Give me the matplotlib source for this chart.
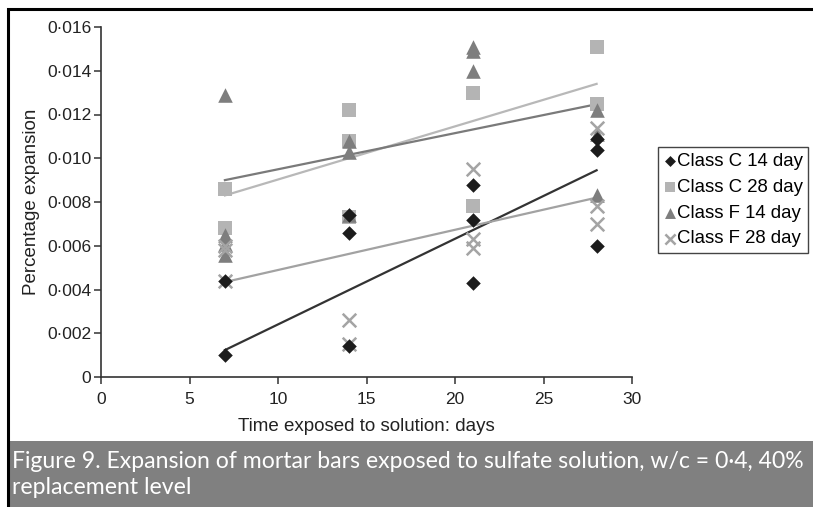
import matplotlib
matplotlib.use("Agg")
import matplotlib.pyplot as plt
from matplotlib.patches import Rectangle
from matplotlib.ticker import FuncFormatter

# ---- data ----
days = [7, 14, 21, 28]

c14_x = [7, 7, 14, 14, 14, 21, 21, 21, 28, 28, 28]
c14_y = [0.0010, 0.0044, 0.0074, 0.0066, 0.0014, 0.0088, 0.0072, 0.0043, 0.0109, 0.0104, 0.0060]

c28_x = [7, 7, 14, 14, 14, 21, 21, 28, 28]
c28_y = [0.0086, 0.0068, 0.0122, 0.0108, 0.0073, 0.0130, 0.0078, 0.0151, 0.0125]

f14_x = [7, 7, 7, 7, 14, 14, 14, 21, 21, 21, 28, 28, 28]
f14_y = [0.0129, 0.0065, 0.0061, 0.0056, 0.0108, 0.0103, 0.0074, 0.0151, 0.0149, 0.0140, 0.0122, 0.0111, 0.0083]

f28_x = [7, 7, 7, 14, 14, 21, 21, 21, 28, 28, 28]
f28_y = [0.0044, 0.0060, 0.0058, 0.0026, 0.0015, 0.0095, 0.0063, 0.0059, 0.0114, 0.0078, 0.0070]

trend_x = [7, 28]
trend_c14 = [0.00123, 0.00945]
trend_c28 = [0.0083, 0.0134]
trend_f14 = [0.0090, 0.01247]
trend_f28 = [0.00434, 0.0082]

series_labels = ["Class C 14 day", "Class C 28 day", "Class F 14 day", "Class F 28 day"]
x_ticks = [0, 5, 10, 15, 20, 25, 30]
y_ticks = [0, 0.002, 0.004, 0.006, 0.008, 0.010, 0.012, 0.014, 0.016]
caption = ("Figure 9. Expansion of mortar bars exposed to sulfate solution, w/c = 0\u00b74, 40%\n"
           "replacement level")

W, H = 813, 507
fig = plt.figure(figsize=(W / 100, H / 100), dpi=100)
fig.patch.set_facecolor("white")

ax = fig.add_axes([101 / W, 1 - 377 / H, (632 - 101) / W, (377 - 27) / H])

col_c14 = "#1c1c1c"
col_c28 = "#b4b4b4"
col_f14 = "#7e7e7e"
col_f28 = "#a4a4a4"

ax.plot(trend_x, trend_c14, color="#333333", lw=1.6, zorder=2)
ax.plot(trend_x, trend_c28, color="#b8b8b8", lw=1.6, zorder=2)
ax.plot(trend_x, trend_f14, color="#7a7a7a", lw=1.6, zorder=2)
ax.plot(trend_x, trend_f28, color="#a2a2a2", lw=1.6, zorder=2)

ax.scatter(c28_x, c28_y, marker="s", s=95, color=col_c28, lw=0, zorder=3, label=series_labels[1])
ax.scatter(f14_x, f14_y, marker="^", s=110, color=col_f14, lw=0, zorder=4, label=series_labels[2])
ax.scatter(f28_x, f28_y, marker="x", s=95, color=col_f28, lw=1.8, zorder=5, label=series_labels[3])
ax.scatter(c14_x, c14_y, marker="D", s=55, color=col_c14, lw=0, zorder=6, label=series_labels[0])

ax.set_xlim(0, 30)
ax.set_ylim(0, 0.016)
ax.set_xticks(x_ticks)
ax.set_yticks(y_ticks)
ax.yaxis.set_major_formatter(FuncFormatter(lambda v, p: "0" if v == 0 else ("%.3f" % v).replace(".", "\u00b7")))

for s in ["top", "right"]:
    ax.spines[s].set_visible(False)
for s in ["left", "bottom"]:
    ax.spines[s].set_color("#333333")
    ax.spines[s].set_linewidth(1.2)
ax.tick_params(direction="out", length=5, width=1.1, color="#333333",
               labelsize=12.5, labelcolor="#222222", pad=2)
ax.tick_params(axis="x", pad=6)
for lab in ax.get_xticklabels() + ax.get_yticklabels():
    lab.set_fontfamily("Liberation Sans")

ax.set_xlabel("Time exposed to solution: days", fontsize=13.5, family="Liberation Sans",
              color="#222222", labelpad=8)
ax.set_ylabel("Percentage expansion", fontsize=13.5, family="Liberation Sans",
              color="#222222", labelpad=5)

handles, labels = ax.get_legend_handles_labels()
order = [labels.index(l) for l in series_labels]
leg = ax.legend([handles[i] for i in order], [labels[i] for i in order],
                loc="upper left", bbox_to_anchor=(658 / W, 1 - 147 / H),
                bbox_transform=fig.transFigure, frameon=True, fancybox=False,
                edgecolor="#444444", framealpha=1, borderpad=0.3, labelspacing=0.48,
                handletextpad=0.0, handlelength=0.7, borderaxespad=0,
                prop={"family": "Liberation Sans", "size": 13.4}, markerscale=0.75)
leg.get_frame().set_linewidth(1.0)

# caption band
fig.patches.append(Rectangle((8 / W, 0), 1, (H - 441) / H, transform=fig.transFigure,
                             facecolor="#808080", edgecolor="none", zorder=0))
fig.text(12 / W, 1 - 451 / H, caption, color="white", fontsize=16.6, family="Lato",
         va="top", ha="left", linespacing=1.3)

# outer frame (right side runs off the canvas as in the reference)
fig.patches.append(Rectangle((8 / W, -0.01), 1, 1 - 9 / H + 0.01, transform=fig.transFigure,
                             facecolor="none", edgecolor="black", lw=2.2, zorder=10))

fig.savefig("out.png", dpi=100)
